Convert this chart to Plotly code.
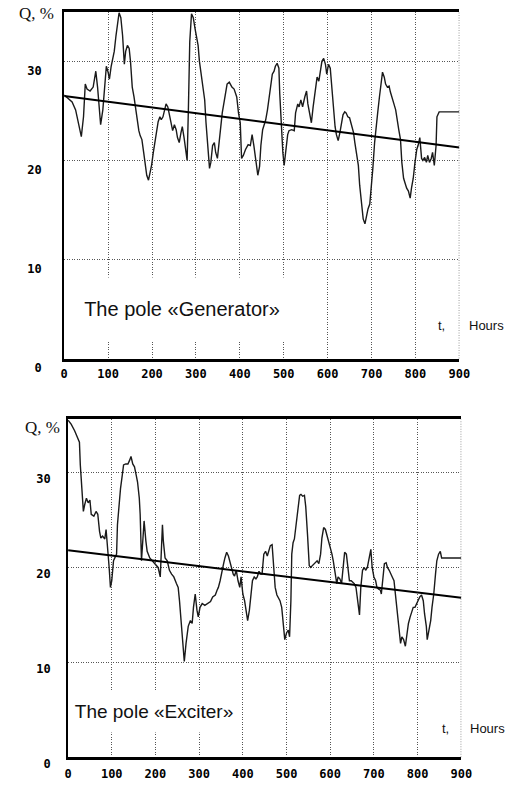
import plotly.graph_objects as go

# ---------------- data ----------------
gen_t = [0, 18, 26, 33, 39, 44, 48, 52, 59, 66, 72, 76, 79, 83, 88, 92, 96, 100, 103, 107,
         111, 114, 118, 122, 125, 129, 133, 137, 140, 144, 148, 151, 155, 159, 162, 166, 170, 173, 177, 181,
         185, 188, 192, 196, 199, 203, 207, 210, 214, 218, 221, 225, 229, 232, 236, 240, 244, 247, 251, 255,
         258, 262, 266, 269, 273, 277, 280, 283, 286, 290, 294, 298, 301, 305, 308, 312, 316, 320, 323, 327,
         331, 334, 338, 342, 345, 349, 353, 356, 360, 365, 371, 376, 382, 387, 393, 397, 401, 404, 408, 413,
         419, 424, 428, 432, 437, 441, 445, 448, 452, 456, 459, 463, 467, 470, 474, 478, 481, 485, 489, 491,
         495, 498, 501, 505, 509, 512, 518, 524, 527, 532, 535, 539, 543, 548, 552, 555, 559, 563, 567, 572,
         576, 580, 584, 587, 591, 595, 598, 602, 606, 609, 613, 617, 620, 624, 628, 631, 635, 639, 642, 646,
         650, 653, 659, 662, 666, 670, 673, 677, 681, 685, 688, 692, 696, 699, 703, 707, 710, 714, 718, 721,
         725, 729, 732, 736, 740, 743, 747, 751, 755, 758, 762, 766, 769, 773, 777, 780, 784, 788, 791, 795,
         799, 803, 806, 810, 814, 817, 821, 825, 828, 832, 836, 839, 843, 847, 849, 852, 854, 900]
gen_q = [26.6, 25.9, 25.1, 23.8, 22.4, 24.4, 27.7, 27.2, 27.0, 27.4, 29.0, 27.4, 25.7, 23.6, 25.1, 27.7, 29.5, 28.9, 28.2, 29.5,
         30.3, 31.0, 32.6, 34.3, 34.9, 34.4, 32.6, 29.7, 31.0, 31.6, 31.3, 30.0, 27.4, 26.4, 25.4, 24.1, 23.0, 22.5, 22.1, 20.8,
         19.2, 18.5, 18.0, 18.7, 19.5, 20.8, 22.1, 23.1, 23.9, 24.4, 24.1, 24.4, 25.1, 25.7, 25.4, 24.4, 23.4, 23.0, 23.6, 23.1,
         22.3, 21.8, 22.8, 23.4, 22.3, 21.1, 20.0, 25.4, 32.0, 34.8, 34.4, 33.3, 32.6, 31.6, 30.0, 28.7, 27.4, 26.1, 23.8, 21.1,
         19.2, 19.8, 21.5, 21.8, 20.8, 20.2, 22.1, 23.4, 24.8, 26.1, 27.7, 27.9, 27.4, 27.2, 26.4, 24.8, 23.8, 20.2, 20.5, 21.1,
         21.6, 21.5, 22.6, 21.5, 19.8, 18.5, 19.4, 21.5, 23.1, 23.6, 24.1, 25.1, 26.4, 27.7, 28.7, 29.0, 29.5, 29.8, 29.3, 26.7,
         22.8, 20.8, 19.5, 20.8, 22.6, 23.0, 23.1, 23.0, 24.8, 25.7, 25.4, 26.1, 25.4, 26.4, 27.0, 25.7, 24.8, 23.8, 25.4, 27.4,
         28.4, 28.0, 29.0, 30.0, 30.3, 29.7, 28.7, 29.7, 29.3, 27.7, 25.4, 23.4, 22.6, 22.0, 22.8, 23.8, 24.6, 24.9, 24.8, 24.4,
         24.3, 23.8, 22.8, 21.8, 20.8, 19.5, 17.5, 15.6, 14.1, 13.6, 14.4, 15.1, 15.6, 16.9, 19.2, 21.8, 23.4, 24.8, 26.4, 27.7,
         28.9, 28.4, 27.7, 27.4, 27.5, 26.9, 26.4, 25.7, 25.1, 24.1, 23.1, 22.1, 19.8, 18.2, 17.5, 17.2, 16.9, 16.2, 17.2, 18.2,
         19.8, 21.1, 21.5, 22.3, 20.2, 20.0, 20.3, 19.8, 20.5, 19.8, 20.2, 20.8, 19.5, 21.5, 24.4, 24.8, 24.9, 24.9]
gen_trend_t = [0, 900]
gen_trend_q = [26.5, 21.3]

exc_t = [0, 7, 15, 22, 26, 28, 31, 35, 38, 42, 46, 50, 53, 59, 64, 68, 72, 75, 79, 84,
         87, 91, 94, 97, 100, 104, 107, 111, 113, 116, 120, 124, 127, 132, 137, 141, 144, 148, 152, 156,
         159, 163, 165, 168, 172, 174, 178, 181, 187, 193, 200, 206, 211, 213, 216, 218, 222, 227, 232, 237,
         242, 248, 252, 255, 259, 263, 266, 270, 275, 280, 284, 287, 291, 295, 298, 302, 307, 313, 319, 326,
         331, 337, 341, 344, 348, 352, 356, 359, 363, 367, 370, 374, 378, 381, 385, 389, 393, 396, 400, 404,
         407, 411, 415, 419, 422, 426, 430, 433, 437, 441, 444, 448, 452, 456, 459, 463, 467, 470, 474, 478,
         481, 485, 489, 492, 496, 500, 504, 507, 510, 512, 515, 518, 522, 526, 530, 533, 537, 541, 544, 548,
         552, 555, 559, 563, 567, 570, 574, 578, 581, 585, 589, 592, 596, 600, 604, 607, 611, 615, 618, 622,
         626, 630, 633, 637, 641, 644, 648, 652, 655, 659, 663, 667, 670, 674, 678, 681, 685, 689, 693, 696,
         700, 704, 707, 711, 715, 717, 720, 724, 728, 731, 735, 738, 742, 746, 750, 753, 757, 761, 764, 768,
         772, 776, 779, 783, 787, 790, 794, 798, 801, 805, 809, 813, 816, 820, 822, 826, 830, 833, 837, 841,
         844, 848, 852, 855, 859, 900]
exc_q = [35.5, 35.1, 34.4, 33.7, 33.2, 30.8, 28.7, 25.9, 26.6, 27.3, 26.8, 27.1, 25.6, 25.4, 25.9, 25.6, 23.8, 23.1, 23.3, 23.0,
         24.0, 22.1, 20.0, 17.9, 18.6, 20.7, 21.0, 21.4, 24.5, 26.6, 28.3, 29.7, 30.8, 30.9, 30.9, 31.3, 31.7, 30.9, 30.6, 29.7,
         29.0, 27.3, 25.6, 20.7, 23.5, 24.9, 22.8, 21.7, 21.0, 20.7, 20.3, 20.0, 19.0, 21.4, 24.5, 22.8, 21.0, 20.7, 19.7, 19.3,
         19.0, 18.3, 17.9, 16.5, 13.8, 11.3, 10.1, 12.0, 13.8, 14.4, 14.1, 15.8, 17.2, 15.5, 14.8, 15.8, 16.2, 16.0, 16.2, 16.4,
         16.9, 17.1, 17.6, 17.9, 18.6, 19.7, 20.4, 21.0, 21.6, 21.2, 20.7, 19.8, 19.3, 19.1, 19.7, 18.6, 17.9, 19.0, 17.2, 16.5,
         15.5, 14.4, 15.5, 17.6, 18.6, 19.0, 18.8, 19.0, 19.6, 19.3, 19.3, 21.4, 21.7, 21.2, 21.7, 22.3, 22.4, 20.7, 17.9, 17.1,
         16.9, 16.5, 15.8, 14.4, 12.4, 13.1, 13.4, 12.7, 16.5, 21.4, 22.6, 23.0, 24.5, 26.6, 27.6, 27.7, 27.5, 27.6, 26.4, 23.5,
         20.2, 20.0, 20.2, 20.4, 20.5, 20.7, 20.4, 21.4, 23.1, 24.2, 24.0, 23.5, 22.8, 22.1, 21.4, 20.7, 19.7, 18.3, 19.0, 18.8,
         18.3, 20.0, 21.6, 21.4, 19.3, 18.6, 18.6, 18.4, 18.3, 17.9, 16.5, 15.0, 17.9, 19.7, 20.0, 19.7, 20.0, 21.0, 21.9, 20.0,
         19.0, 18.6, 17.9, 17.7, 17.6, 17.2, 18.6, 20.4, 20.5, 20.0, 19.7, 19.3, 19.0, 18.6, 16.9, 15.1, 13.4, 12.0, 12.7, 12.4,
         11.7, 13.1, 14.1, 14.8, 15.5, 15.8, 15.8, 16.2, 16.4, 16.9, 17.1, 16.5, 15.1, 13.8, 12.4, 13.4, 14.4, 15.8, 17.2, 19.3,
         20.7, 21.4, 21.7, 21.0, 21.0, 21.0]
exc_trend_t = [0, 900]
exc_trend_q = [21.8, 16.8]

x_ticks = [0, 100, 200, 300, 400, 500, 600, 700, 800, 900]
y_ticks = [0, 10, 20, 30]

# ---------------- figure ----------------
W, H = 515, 790
fig = go.Figure()

line_data = dict(color="#1a1a1a", width=1.4)
line_trend = dict(color="#000000", width=2)

fig.add_trace(go.Scatter(x=gen_t, y=gen_q, mode="lines", line=line_data, xaxis="x", yaxis="y", showlegend=False))
fig.add_trace(go.Scatter(x=gen_trend_t, y=gen_trend_q, mode="lines", line=line_trend, xaxis="x", yaxis="y", showlegend=False))
fig.add_trace(go.Scatter(x=exc_t, y=exc_q, mode="lines", line=line_data, xaxis="x2", yaxis="y2", showlegend=False))
fig.add_trace(go.Scatter(x=exc_trend_t, y=exc_trend_q, mode="lines", line=line_trend, xaxis="x2", yaxis="y2", showlegend=False))

tickfont = dict(family="DejaVu Sans Mono", size=12, color="#000", weight="bold")
GRID_COLOR = "#555"
GRID_DASH = "1px,1.5px"
grid = dict(showgrid=True, gridcolor=GRID_COLOR, gridwidth=1, griddash=GRID_DASH)

def xax(domain, anchor, standoff):
    return dict(domain=domain, anchor=anchor, range=[0, 900], tickvals=x_ticks,
                ticktext=[str(v) for v in x_ticks], ticks="", tickfont=tickfont,
                showline=True, mirror=True, linecolor="#000", linewidth=2.5,
                zeroline=False, ticklabelstandoff=standoff, **grid)

def yax(domain, anchor, top, shift, standoff):
    return dict(domain=domain, anchor=anchor, range=[0, top], tickvals=y_ticks,
                ticktext=[str(v) for v in y_ticks], ticks="", tickfont=tickfont,
                showline=True, mirror=False, linecolor="#000", linewidth=2,
                zeroline=False, ticklabelshift=shift, ticklabelstandoff=standoff, **grid)

fig.update_layout(
    width=W, height=H, autosize=False,
    margin=dict(l=0, r=0, t=0, b=0),
    paper_bgcolor="white", plot_bgcolor="white",
    xaxis=xax([62 / W, 469 / W], "y", 2),
    yaxis=yax([1 - 366 / H, 1 - 12 / H], "x", 35, 9, 18),
    xaxis2=xax([66 / W, 471 / W], "y2", 4),
    yaxis2=yax([1 - 773 / H, 1 - 428 / H], "x2", 35.6, 6, 13),
)

# dotted right-hand border (grid line at t = 900)
for xr, yr in (("x", "y domain"), ("x2", "y2 domain")):
    fig.add_shape(type="line", xref=xr, yref=yr, x0=900, x1=900, y0=0, y1=1,
                  line=dict(color=GRID_COLOR, width=1.2, dash=GRID_DASH), layer="above")

serif = dict(family="Liberation Serif", size=17, color="#111")
sans_big = dict(family="Liberation Sans", size=20, color="#111")
sans_small = dict(family="Liberation Sans", size=13, color="#111")

def ann(text, x, y, font, xanchor="center", **kw):
    fig.add_annotation(text=text, x=x / W, y=1 - y / H, xref="paper", yref="paper",
                       xanchor=xanchor, yanchor="middle", showarrow=False, font=font, **kw)

ann("Q, %", 13, 14, serif, xanchor="left")
ann("Q, %", 20, 436, serif, xanchor="left")
ann("The pole «Generator»", 183, 315, sans_big, width=204, height=62, bgcolor="white", borderpad=0)
ann("The pole «Exciter»", 155, 726, dict(sans_big, size=19), width=166, height=41, bgcolor="white", borderpad=0)
ann("t,", 451, 332, sans_small)
ann("Hours", 477, 332, sans_small, xanchor="left")
ann("t,", 455, 744, sans_small)
ann("Hours", 478, 744, sans_small, xanchor="left")

fig.write_html("out.html")
